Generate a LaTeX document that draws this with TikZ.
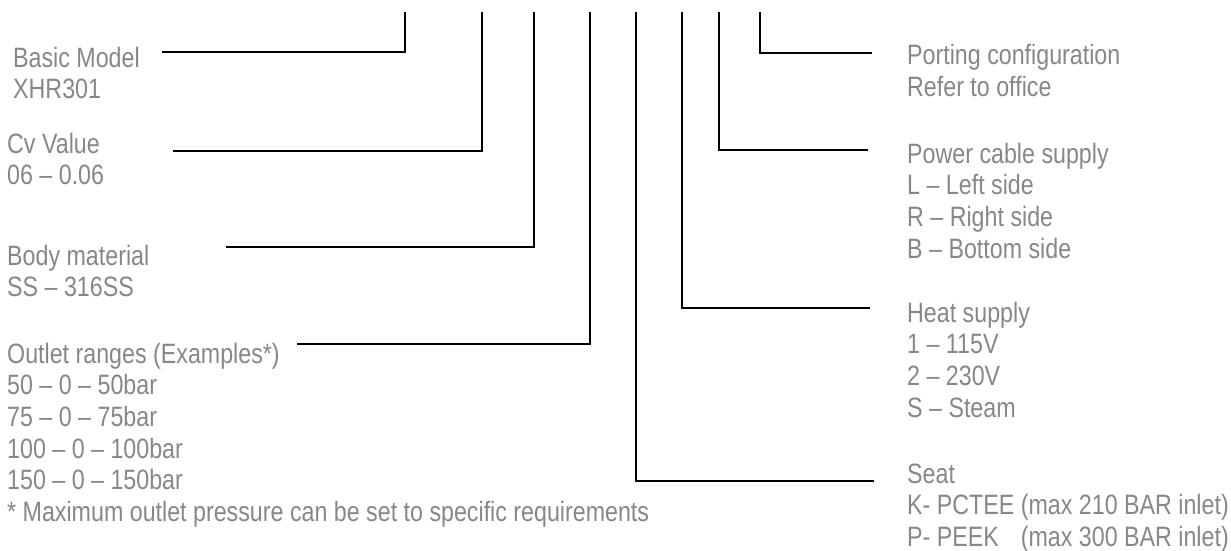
\documentclass[tikz,border=0pt]{standalone}
\usepackage{fontspec}
\setmainfont{Liberation Sans}[FakeStretch=0.83]
\usetikzlibrary{calc}
\definecolor{codegray}{HTML}{878787}
\tikzset{
	codetext/.style={anchor=base west, inner sep=0pt, text=codegray, font=\fontsize{28}{32}\selectfont},
	leader/.style={line width=2.2pt, color=black}
}
% one label block, one node per line: name, x, baseline, lines
\def\codeblock#1(#2,#3)#4{\foreach \t [count=\i from 0] in {#4} {\node[codetext] (#1-\i) at (#2, {#3+31.7*\i}) {\t};}}

\begin{document}
\begin{tikzpicture}[x=1pt, y=-1pt]
			%%%%% START %%%%%
			\useasboundingbox (0, 0) rectangle (1231, 551);
			
			%% left side
			\codeblock{basic}(13, 67){Basic Model, XHR301}
			\codeblock{cv}(7, 153){Cv Value, 06 – 0.06}
			\codeblock{body}(7, 265){Body material, SS – 316SS}
			\codeblock{outlet}(7, 363){Outlet ranges (Examples*), 50 – 0 – 50bar, 75 – 0 – 75bar, 100 – 0 – 100bar, 150 – 0 – 150bar, * Maximum outlet pressure can be set to specific requirements}
			
			%% right side
			\codeblock{port}(907, 65){Porting configuration, Refer to office}
			\codeblock{power}(907, 163){Power cable supply, L – Left side, R – Right side, B – Bottom side}
			\codeblock{heat}(907, 322){Heat supply, 1 – 115V, 2 – 230V, S – Steam}
			\codeblock{seat}(907, 483){Seat, K- PCTEE (max 210 BAR inlet), {\rlap{P- PEEK}\phantom{K- PCTEE}} (max 300 BAR inlet)}
			
			%% leaders
			\coordinate (basic-top) at (405, 12);
			\coordinate (basic-end) at (162, 52);
			\coordinate (cv-top) at (482, 12);
			\coordinate (cv-end) at (173, 151);
			\coordinate (body-top) at (534, 12);
			\coordinate (body-end) at (226, 247);
			\coordinate (outlet-top) at (590, 12);
			\coordinate (outlet-end) at (297, 344);
			\coordinate (seat-top) at (636, 12);
			\coordinate (seat-end) at (874, 481);
			\coordinate (heat-top) at (682, 12);
			\coordinate (heat-end) at (870, 308);
			\coordinate (power-top) at (719, 12);
			\coordinate (power-end) at (868, 150);
			\coordinate (port-top) at (760, 12);
			\coordinate (port-end) at (872, 53);
			
			\foreach \n in {basic, cv, body, outlet, seat, heat, power, port}
				\draw[leader] (\n-top) |- (\n-end);
			
			%%%%% END %%%%%
\end{tikzpicture}
\end{document}
